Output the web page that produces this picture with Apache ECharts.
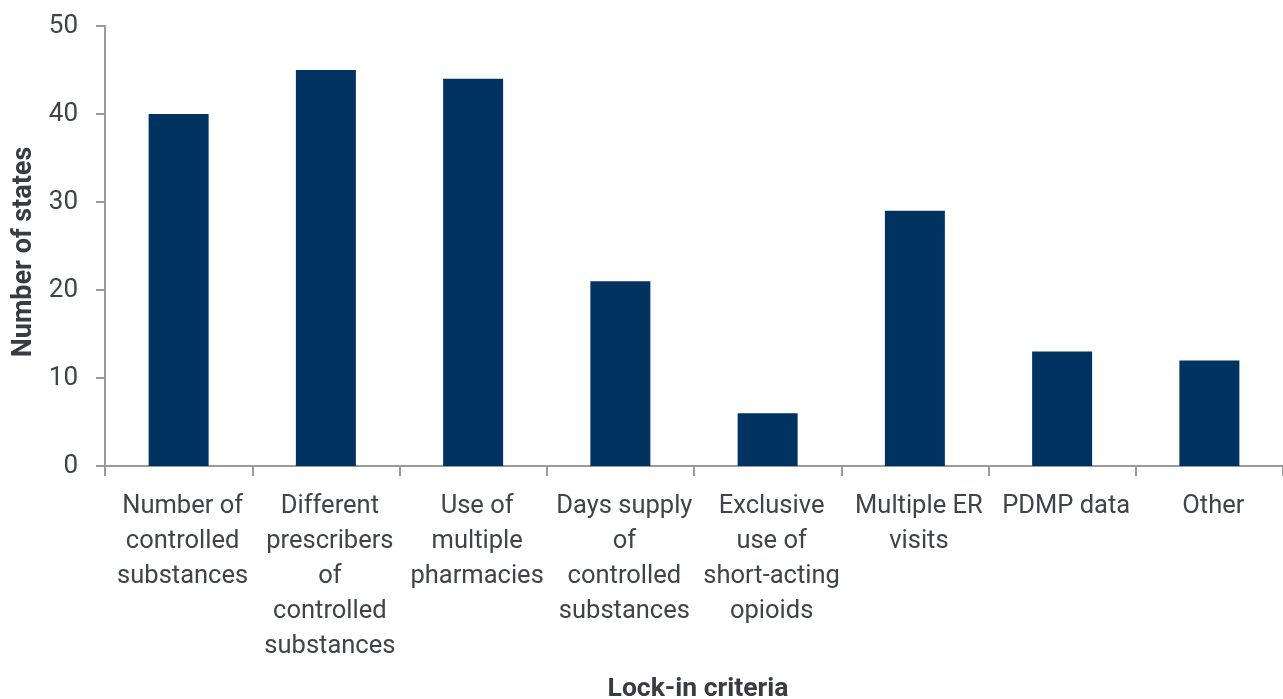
<!DOCTYPE html>
<html><head><meta charset="utf-8">
<script src="https://cdn.jsdelivr.net/npm/echarts@6/dist/echarts.min.js"></script>
<style>html,body{margin:0;padding:0;background:#fff}#c{width:1283px;height:699px}</style>
</head><body><div id="c"></div>
<script>
const categories = [
  "Number of\ncontrolled\nsubstances",
  "Different\nprescribers\nof\ncontrolled\nsubstances",
  "Use of\nmultiple\npharmacies",
  "Days supply\nof\ncontrolled\nsubstances",
  "Exclusive\nuse of\nshort-acting\nopioids",
  "Multiple ER\nvisits",
  "PDMP data",
  "Other"
];
const states = [40, 45, 44, 21, 6, 29, 13, 12];
const yTicks = {min: 0, max: 50, interval: 10};

const chart = echarts.init(document.getElementById('c'));
const txt = '#3f434b';
const nameCol = '#383b43';
chart.setOption({
  animation: false,
  textStyle: {fontFamily: 'Roboto'},
  grid: {left: 105, right: 0, top: 26, bottom: 233, containLabel: false, outerBoundsMode: 'none'},
  xAxis: {
    type: 'category', data: categories,
    name: 'Lock-in criteria', nameLocation: 'middle', nameGap: 210,
    nameTextStyle: {fontFamily: 'Roboto', fontWeight: 'bold', fontSize: 26.5, color: nameCol, padding: [0, 0, 0, 8]},
    axisLine: {lineStyle: {color: '#9a9a9a', width: 2}},
    axisTick: {show: true, length: 10, lineStyle: {color: '#9a9a9a', width: 2}},
    axisLabel: {fontFamily: 'Roboto', fontSize: 25.5, color: txt, lineHeight: 35, margin: 23, interval: 0, padding: [0, 0, 0, 8]}
  },
  yAxis: {
    type: 'value', min: yTicks.min, max: yTicks.max, interval: yTicks.interval,
    name: 'Number of states', nameLocation: 'middle', nameGap: 66, nameRotate: 90,
    nameTextStyle: {fontFamily: 'Roboto', fontWeight: 'bold', fontSize: 27, color: nameCol, padding: [0, 12, 0, 0]},
    axisLine: {show: true, lineStyle: {color: '#9a9a9a', width: 2}},
    axisTick: {show: true, length: 9, lineStyle: {color: '#9a9a9a', width: 2}},
    splitLine: {show: false},
    axisLabel: {fontFamily: 'Roboto', fontSize: 26, color: txt, margin: 27}
  },
  series: [{
    type: 'bar', data: states, barWidth: 60,
    itemStyle: {color: '#00335f'}
  }]
});
</script></body></html>
